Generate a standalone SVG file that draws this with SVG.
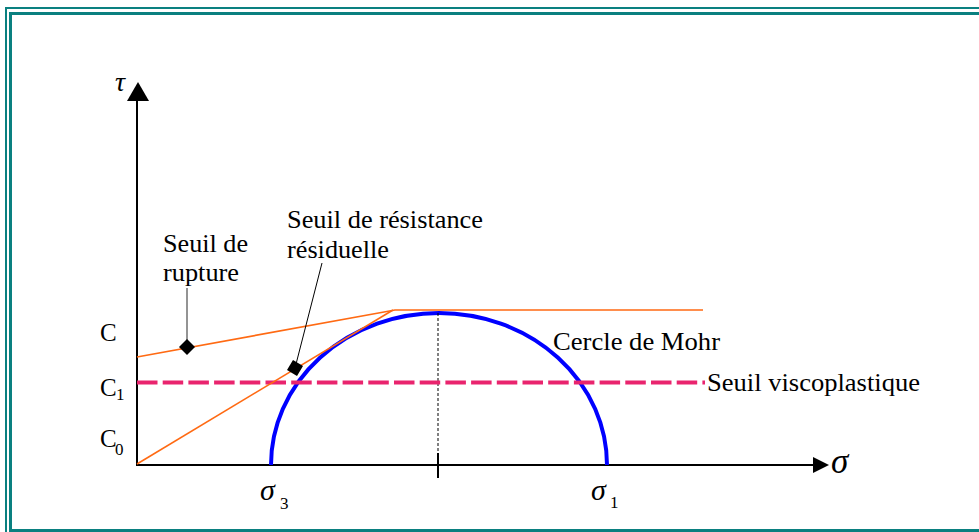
<svg xmlns="http://www.w3.org/2000/svg" width="979" height="532" viewBox="0 0 979 532">
<style>
.t{font-family:"Liberation Serif","Times New Roman",serif;font-size:25px;fill:#000}
.g{font-family:"Liberation Serif","Times New Roman",serif;font-style:italic;font-size:30px;fill:#000}
.s{font-family:"Liberation Serif","Times New Roman",serif;font-size:17px;fill:#000}
.or{stroke:#FF6A13;stroke-width:1.6;fill:none}
.ax{stroke:#000;stroke-width:2;fill:none}
</style>
<rect width="979" height="532" fill="#fff"/>
<g id="border" fill="none" stroke="#0A8080">
<rect x="6" y="8" width="990" height="540" stroke-width="2"/>
<rect x="10.5" y="13.5" width="980" height="517" stroke-width="3"/>
</g>
<g id="axes">
<line class="ax" x1="137" y1="100" x2="137" y2="465"/>
<polygon points="138,82 127,101 149,101" fill="#000"/>
<line class="ax" x1="136" y1="465" x2="815" y2="465"/>
<polygon points="829,465 813,457 813,473" fill="#000"/>
<line x1="438" y1="453" x2="438" y2="478" stroke="#000" stroke-width="2"/>
<text class="g" x="115" y="91" style="font-size:28px">τ</text>
<text class="g" x="831" y="473" style="font-size:35px">σ</text>
</g>
<g id="mohr">
<path d="M271,465 A168,152 0 0 1 607,465" fill="none" stroke="#0000FF" stroke-width="4"/>
<line x1="438" y1="313" x2="438" y2="465" stroke="#000" stroke-width="1" stroke-dasharray="3,2"/>
<text class="t" x="553" y="350" textLength="167" lengthAdjust="spacingAndGlyphs">Cercle de Mohr</text>
</g>
<g id="viscoplastique">
<line x1="137" y1="382.5" x2="705" y2="382.5" stroke="#E9246E" stroke-width="4" stroke-dasharray="20.5,5.2"/>
<text class="t" x="707" y="391" textLength="213" lengthAdjust="spacingAndGlyphs">Seuil viscoplastique</text>
</g>
<g id="rupture">
<polyline class="or" points="137,357 395,310 703,310"/>
<line x1="187" y1="288" x2="187" y2="347" stroke="#707070" stroke-width="1.5"/>
<polygon points="187,339 195,347 187,355 179,347" fill="#000"/>
<text class="t" x="163" y="252" textLength="85" lengthAdjust="spacingAndGlyphs">Seuil de</text>
<text class="t" x="163" y="281" textLength="76" lengthAdjust="spacingAndGlyphs">rupture</text>
</g>
<g id="residuelle">
<line class="or" x1="137" y1="464" x2="393" y2="310"/>
<line x1="295" y1="368" x2="322" y2="263" stroke="#000" stroke-width="1"/>
<polygon points="293,360 303,366 297,376 287,370" fill="#000"/>
<text class="t" x="287" y="228" textLength="196" lengthAdjust="spacingAndGlyphs">Seuil de résistance</text>
<text class="t" x="287" y="258" textLength="102" lengthAdjust="spacingAndGlyphs">résiduelle</text>
</g>
<g id="labels">
<text class="t" x="100" y="341">C</text>
<text class="t" x="100" y="396">C</text><text class="s" x="116" y="400">1</text>
<text class="t" x="100" y="447">C</text><text class="s" x="115" y="455">0</text>
<text class="g" x="260" y="500">σ</text><text class="s" x="280" y="509">3</text>
<text class="g" x="591" y="500">σ</text><text class="s" x="610" y="508">1</text>
</g>
</svg>
